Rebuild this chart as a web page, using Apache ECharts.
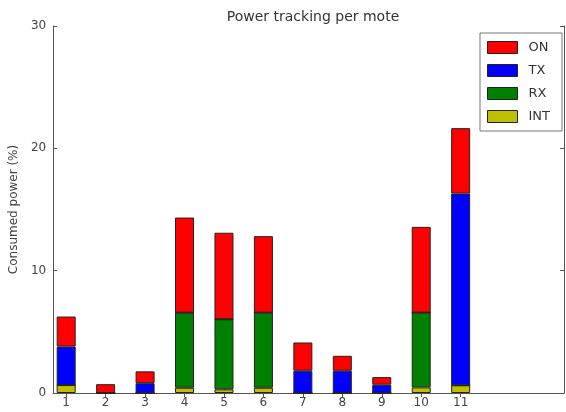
<!DOCTYPE html>
<html>
<head>
<meta charset="utf-8">
<script src="https://cdn.jsdelivr.net/npm/echarts@6/dist/echarts.min.js"></script>
<style>
html,body{margin:0;padding:0;background:#fff;}
#c{width:566px;height:412px;}
</style>
</head>
<body>
<div id="c"></div>
<script>
const motes = [1, 2, 3, 4, 5, 6, 7, 8, 9, 10, 11];
const intVals = [0.65, 0, 0, 0.43, 0.3, 0.43, 0, 0, 0, 0.46, 0.63];
const rxVals  = [0, 0, 0, 6.14, 5.73, 6.14, 0, 0, 0, 6.11, 0];
const txVals  = [3.15, 0, 0.8, 0, 0, 0, 1.82, 1.82, 0.68, 0, 15.67];
const onVals  = [2.45, 0.72, 0.97, 7.77, 7.07, 6.25, 2.31, 1.22, 0.62, 7.01, 5.35];
const yTicks = [0, 10, 20, 30];

const font = 'DejaVu Sans';
const axisColor = '#555';

// value first so that the stacked dimension is the y (value) dimension
function pairs(vals){ return motes.map((m,i)=>[vals[i], m]); }

function mk(name, vals, color){
  return {
    name: name, type: 'bar', stack: 'p', barWidth: 19,
    data: pairs(vals),
    encode: {x: 1, y: 0},
    itemStyle: {color: color, borderColor: '#222', borderWidth: 1},
    emphasis: {disabled: true}
  };
}

const chart = echarts.init(document.getElementById('c'), null, {renderer: 'canvas'});
chart.setOption({
  animation: false,
  backgroundColor: '#fff',
  title: {
    text: 'Power tracking per mote', left: 308, top: 5, textAlign: 'center',
    textStyle: {fontFamily: font, fontSize: 14, fontWeight: 'normal', color: '#333'}
  },
  legend: {
    orient: 'vertical', left: 480, top: 33, width: 80,
    data: ['ON', 'TX', 'RX', 'INT'],
    itemWidth: 30, itemHeight: 12, itemGap: 10,
    padding: [8, 12, 8, 7],
    borderColor: '#777', borderWidth: 1, backgroundColor: '#fff',
    icon: 'rect',
    itemStyle: {borderColor: '#222', borderWidth: 1},
    textStyle: {fontFamily: font, fontSize: 13, color: '#333', padding: [0, 0, 0, 6]},
    selectedMode: false
  },
  grid: {left: 52, right: 2, top: 26, bottom: 19, containLabel: false},
  xAxis: [{
    type: 'value', min: 0.67, max: 13.62, position: 'bottom',
    splitLine: {show: false},
    axisLine: {show: true, lineStyle: {color: axisColor, width: 1}},
    axisTick: {show: true, inside: true, length: 4, customValues: motes, lineStyle: {color: axisColor}},
    axisLabel: {customValues: motes, fontFamily: font, fontSize: 12, color: '#444', margin: 4}
  }, {
    type: 'value', min: 0.67, max: 13.62, position: 'top',
    splitLine: {show: false},
    axisLine: {show: true, lineStyle: {color: axisColor, width: 1}},
    axisTick: {show: true, inside: true, length: 4, customValues: motes, lineStyle: {color: axisColor}},
    axisLabel: {show: false}
  }],
  yAxis: [{
    type: 'value', min: 0, max: 30, interval: 10, position: 'left',
    name: 'Consumed power (%)', nameLocation: 'middle', nameGap: 26,
    nameTextStyle: {fontFamily: font, fontSize: 12, color: '#444'},
    splitLine: {show: false},
    axisLine: {show: true, lineStyle: {color: axisColor, width: 1}},
    axisTick: {show: true, inside: true, length: 4, lineStyle: {color: axisColor}},
    axisLabel: {fontFamily: font, fontSize: 12, color: '#444', margin: 7,
      formatter: v => yTicks.indexOf(v) >= 0 ? String(v) : ''}
  }, {
    type: 'value', min: 0, max: 30, interval: 10, position: 'right',
    splitLine: {show: false},
    axisLine: {show: true, lineStyle: {color: axisColor, width: 1}},
    axisTick: {show: true, inside: true, length: 4, lineStyle: {color: axisColor}},
    axisLabel: {show: false}
  }],
  series: [
    mk('INT', intVals, '#bfbf00'),
    mk('RX', rxVals, '#008000'),
    mk('TX', txVals, '#0000ff'),
    mk('ON', onVals, '#ff0000')
  ]
});
</script>
</body>
</html>
